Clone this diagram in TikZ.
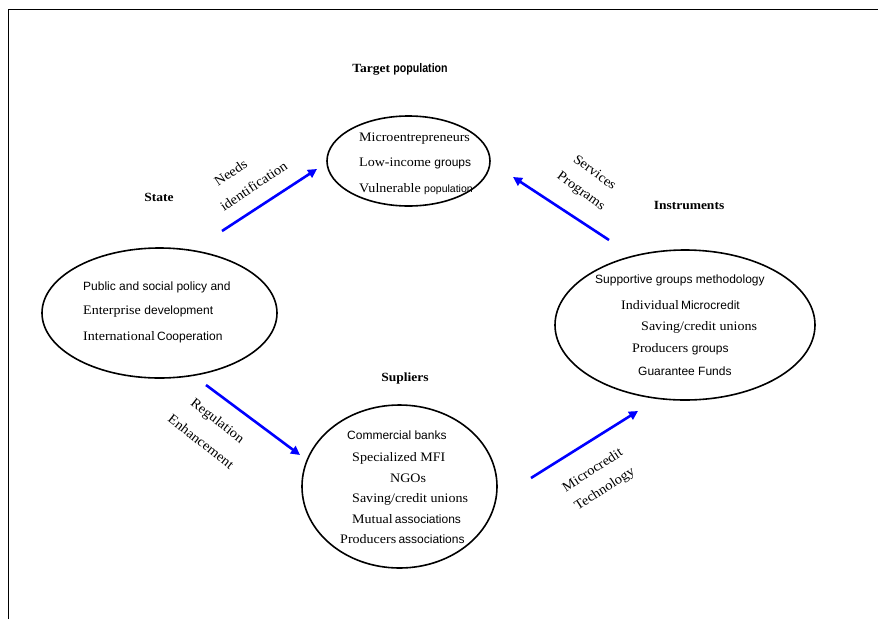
\documentclass[tikz,border=0pt]{standalone}
\usepackage{fontspec}
\setmainfont{Liberation Serif}[FakeStretch=1.08]
\newfontfamily\sn{Liberation Sans}
\newfontfamily\snb{Liberation Sans}[FakeStretch=0.85]
\usetikzlibrary{shapes.geometric,arrows.meta}
\begin{document}
\begin{tikzpicture}[x=1pt,y=-1pt,
  oval/.style={ellipse, draw, line width=1.6pt, inner sep=0pt},
  item/.style={anchor=west, inner sep=0pt, font=\fontsize{13}{15}\selectfont},
  sitem/.style={anchor=west, inner sep=0pt, font=\sn\fontsize{12}{14}\selectfont},
  title/.style={inner sep=0pt, font=\bfseries\fontsize{12.5}{14}\selectfont},
  lbl/.style={inner sep=0pt, font=\fontsize{13.5}{15}\selectfont},
  flow/.style={draw=blue, line width=2.6pt, -{Triangle[length=9pt,width=9pt]}},
  frame/.style={draw=black, line width=1.5pt}]
\useasboundingbox (0,0) rectangle (878,619);
% frame
\coordinate (fA) at (8.5,619);
\coordinate (fB) at (8.5,9.5);
\coordinate (fC) at (878,9.5);
\draw[frame] (fA) -- (fB) -- (fC);

% titles
\node[title] (ttarget) at (400,69) {Target {\snb population}};
\node[title] (tstate) at (159,197) {State};
\node[title] (tinstr) at (689,205) {Instruments};
\node[title] (tsupl) at (405,378) {Supliers};

% ellipses
\node[oval, minimum width=163pt, minimum height=90pt] (target) at (408.5,161) {};
\node[oval, minimum width=235pt, minimum height=130pt] (state) at (159.5,313) {};
\node[oval, minimum width=260pt, minimum height=150pt] (instr) at (685,325) {};
\node[oval, minimum width=195pt, minimum height=163pt] (supl) at (399.5,486.5) {};

% target items
\node[item] (ta1) at (359,139) {Microentrepreneurs};
\node[item] (ta2) at (359,163) {Low-income {\sn\fontsize{12}{14}\selectfont groups}};
\node[item] (ta3) at (359,189) {Vulnerable {\sn\fontsize{10.5}{12}\selectfont population}};

% state items
\node[sitem] (st1) at (83,287) {Public and social policy and};
\node[item] (st2) at (83,312) {Enterprise {\sn\fontsize{12}{14}\selectfont development}};
\node[item] (st3) at (83,337) {International\,{\sn\fontsize{12}{14}\selectfont Cooperation}};

% instruments items
\node[sitem] (in1) at (595,280) {Supportive groups methodology};
\node[item] (in2) at (621,305) {Individual\,{\sn\fontsize{12}{14}\selectfont Microcredit}};
\node[item] (in3) at (641,327) {Saving/credit unions};
\node[item] (in4) at (632,349) {Producers {\sn\fontsize{12}{14}\selectfont groups}};
\node[sitem] (in5) at (638,371) {Guarantee Funds};

% supliers items
\node[sitem] (su1) at (347,435) {Commercial banks};
\node[item] (su2) at (352,458) {Specialized MFI};
\node[item] (su3) at (390,478) {NGOs};
\node[item] (su4) at (352,499) {Saving/credit unions};
\node[item] (su5) at (352,519) {Mutual\,{\sn\fontsize{12}{14}\selectfont associations}};
\node[item] (su6) at (340,539) {Producers\,{\sn\fontsize{12}{14}\selectfont associations}};

% arrow labels
\node[lbl, rotate=34, align=left, font=\fontsize{13.5}{24}\selectfont] (needs) at (247,176) {\hspace*{9pt}Needs\\identification};
\node[lbl, rotate=-36, align=center, font=\fontsize{13.5}{23}\selectfont] (serv) at (587.5,182.5) {Services\\Programs};
\node[lbl, rotate=-38, align=center, font=\fontsize{13.5}{27}\selectfont] (regu) at (209.5,431) {Regulation\\Enhancement};
\node[lbl, rotate=33, align=center, font=\fontsize{13.5}{22}\selectfont] (micro) at (599,480) {Microcredit\\Technology};

% arrows
\coordinate (n1) at (222,231);
\coordinate (n2) at (317,169);
\coordinate (s1) at (609,240);
\coordinate (s2) at (513,177);
\coordinate (r1) at (206,385);
\coordinate (r2) at (300,455);
\coordinate (m1) at (531,478);
\coordinate (m2) at (638,411);
\draw[flow] (n1) -- (n2);
\draw[flow] (s1) -- (s2);
\draw[flow] (r1) -- (r2);
\draw[flow] (m1) -- (m2);
\end{tikzpicture}
\end{document}
